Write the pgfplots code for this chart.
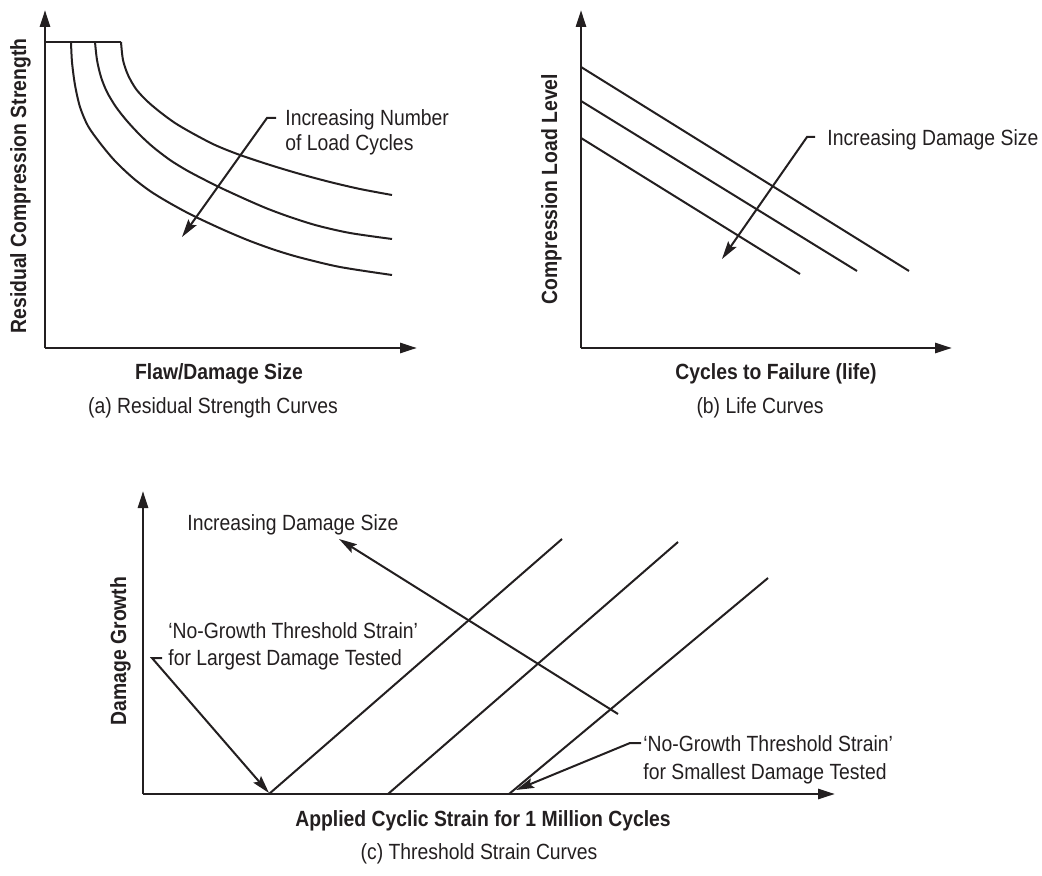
\documentclass[border=0pt]{standalone}
\usepackage{fontspec}
\setmainfont{Liberation Sans}[FakeStretch=0.88]
\usepackage{pgfplots}
\pgfplotsset{compat=1.18}
\usetikzlibrary{arrows.meta}
\definecolor{ink}{RGB}{35,31,32}

% One unit = one drawing pixel (0.5pt); y values are negated so that every
% panel shares the same page coordinates.
\newcommand{\txt}{\fontsize{11}{13}\selectfont}
\pgfplotsset{
  sketch/.style={
    x=0.5pt, y=0.5pt,
    axis lines*=left,
    axis line style={ink, line width=1.35pt, -{Triangle[length=8.5pt,width=5pt]}},
    xtick=\empty, ytick=\empty,
    clip=false,
    anchor=south west,
    label style={font=\txt\bfseries, text=ink},
    title style={font=\txt, text=ink},
  },
  curve/.style={ink, line width=1pt, mark=none},
}
\tikzset{
  lead/.style={ink, line width=1pt, -{Stealth[length=9pt,width=5pt,inset=1.5pt]}},
  note/.style={anchor=base west, font=\txt, text=ink, inner sep=0pt},
}

\begin{document}
\begin{tikzpicture}
\useasboundingbox (0,0) rectangle (521pt,-438pt);

% (a) Residual strength curves
\begin{axis}[sketch,
  at={(22.5pt,-174pt)},
  xmin=45, xmax=417, ymin=-348, ymax=-10,
  xlabel={Flaw/Damage Size},
  xlabel style={at={(axis cs:219,-379)}, anchor=base},
  ylabel={Residual Compression Strength},
  ylabel style={at={(axis cs:26,-186)}, anchor=base},
  title={(a) Residual Strength Curves},
  title style={at={(axis cs:213,-425)}, anchor=base},
]
\addplot[curve] coordinates {(45,-42) (121,-42)};
\addplot[curve, smooth] coordinates {
  (121,-42) (123,-60) (128,-75) (136,-89) (147,-101) (160,-112) (175,-123)
  (192,-133) (215,-145) (240,-155) (270,-165) (300,-174) (330,-182)
  (360,-189) (392,-195)};
\addplot[curve, smooth] coordinates {
  (95,-42) (97,-60) (101,-77) (107,-92) (116,-107) (127,-121) (140,-135)
  (153,-147) (170,-160) (187,-170.5) (205,-180) (220,-187.5) (245,-199)
  (267,-208.5) (290,-217) (317,-225.5) (350,-233) (392,-239)};
\addplot[curve, smooth] coordinates {
  (71,-42) (72,-62) (75,-85) (80,-107) (88,-126) (100,-143) (115,-161)
  (133,-178) (150,-191) (167,-201.5) (185,-211.5) (200,-219) (225,-230.5)
  (250,-241) (275,-250) (300,-257.5) (340,-267) (392,-275)};
\draw[lead] (axis cs:276,-118) -- (axis cs:267,-118) -- (axis cs:182,-237);
\node[note] at (axis cs:285,-126) {Increasing Number};
\node[note] at (axis cs:285,-151) {of Load Cycles};
\end{axis}

% (b) Life curves
\begin{axis}[sketch,
  at={(290.5pt,-174pt)},
  xmin=581, xmax=952, ymin=-348, ymax=-10,
  xlabel={Cycles to Failure (life)},
  xlabel style={at={(axis cs:776,-379)}, anchor=base},
  ylabel={Compression Load Level},
  ylabel style={at={(axis cs:557,-189)}, anchor=base},
  title={(b) Life Curves},
  title style={at={(axis cs:760,-425)}, anchor=base},
]
\addplot[curve] coordinates {(581,-67) (909,-271)};
\addplot[curve] coordinates {(581,-101) (857,-271)};
\addplot[curve] coordinates {(581,-138) (800,-274)};
\draw[lead] (axis cs:815,-137) -- (axis cs:807,-137) -- (axis cs:722,-259);
\node[note] at (axis cs:827,-146) {Increasing Damage Size};
\end{axis}

% (c) Threshold strain curves
\begin{axis}[sketch,
  at={(71.5pt,-397pt)},
  xmin=143, xmax=835, ymin=-794, ymax=-491,
  xlabel={Applied Cyclic Strain for 1 Million Cycles},
  xlabel style={at={(axis cs:483,-826)}, anchor=base},
  ylabel={Damage Growth},
  ylabel style={at={(axis cs:126,-651)}, anchor=base},
  title={(c) Threshold Strain Curves},
  title style={at={(axis cs:479,-871)}, anchor=base},
]
\addplot[curve] coordinates {(269,-794) (562,-539)};
\addplot[curve] coordinates {(388,-794) (678,-542)};
\addplot[curve] coordinates {(509,-794) (768,-578)};
\draw[lead] (axis cs:618,-714) -- (axis cs:339,-539);
\node[note] at (axis cs:187,-530) {Increasing Damage Size};
\draw[lead] (axis cs:162,-658) -- (axis cs:152,-658) -- (axis cs:269,-793);
\node[note] at (axis cs:168,-638) {‘No-Growth Threshold Strain’};
\node[note] at (axis cs:168,-665) {for Largest Damage Tested};
\draw[lead] (axis cs:641,-743) -- (axis cs:630,-743) -- (axis cs:516,-790);
\node[note] at (axis cs:643,-751) {‘No-Growth Threshold Strain’};
\node[note] at (axis cs:643,-779) {for Smallest Damage Tested};
\end{axis}
\end{tikzpicture}
\end{document}
